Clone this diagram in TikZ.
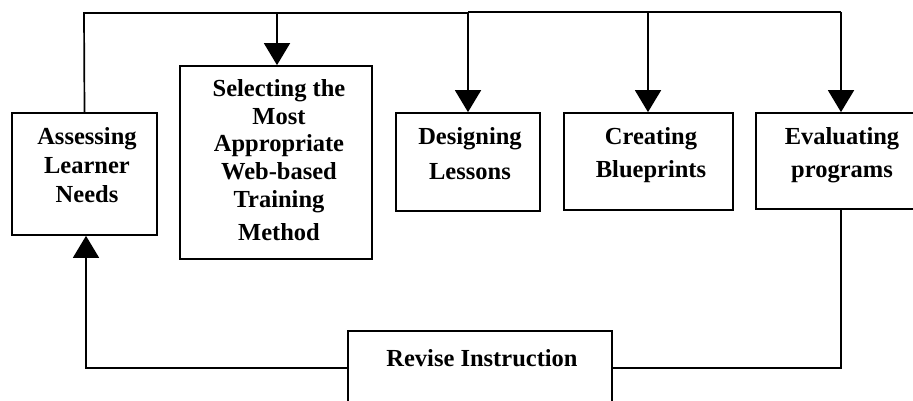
\documentclass[tikz,border=0pt]{standalone}
\usepackage{fontspec}
\setmainfont{Liberation Serif}
\usetikzlibrary{arrows.meta}
\tikzset{
  box/.style={draw, line width=1.7pt, rectangle, inner sep=0pt},
  txt/.style={anchor=base, inner sep=0pt, font=\fontsize{24.5}{27}\selectfont\bfseries},
  conn/.style={line width=1.7pt},
  arr/.style={line width=1.7pt, -{Triangle[length=22pt,width=26pt]}},
}
\begin{document}
\begin{tikzpicture}[x=1pt,y=-1pt]
\useasboundingbox (0,0) rectangle (913,401);
\clip (0,0) rectangle (913,401);
\fill[white] (0,0) rectangle (913,401);
% boxes
\node[box, minimum width=145pt, minimum height=122pt] (A) at (84.5,174) {};
\node[box, minimum width=192pt, minimum height=193pt] (S) at (276,162.5) {};
\node[box, minimum width=144pt, minimum height=98pt] (D) at (468,162) {};
\node[box, minimum width=169pt, minimum height=97pt] (C) at (648.5,161.5) {};
\node[box, minimum width=180pt, minimum height=96pt] (E) at (846,161) {};
\node[box, minimum width=264pt, minimum height=110pt] (R) at (480,386) {};
% texts
\node[txt] (A1) at (87,145) {Assessing};
\node[txt] (A2) at (87,173) {Learner};
\node[txt] (A3) at (87,202) {Needs};
\node[txt] (S1) at (279,97) {Selecting the};
\node[txt] (S2) at (279,125) {Most};
\node[txt] (S3) at (279,152) {Appropriate};
\node[txt] (S4) at (279,179) {Web-based};
\node[txt] (S5) at (279,207) {Training};
\node[txt] (S6) at (279,240) {Method};
\node[txt] (D1) at (470,145) {Designing};
\node[txt] (D2) at (470,179) {Lessons};
\node[txt] (C1) at (651,145) {Creating};
\node[txt] (C2) at (651,178) {Blueprints};
\node[txt] (E1) at (842,145) {Evaluating};
\node[txt] (E2) at (842,177) {programs};
\node[txt] (R1) at (482,366) {Revise Instruction};
% junction coordinates
\coordinate (tA) at (84,13);
\coordinate (tS) at (277,13);
\coordinate (tD) at (468,13);
\coordinate (tC) at (648,12);
\coordinate (tE) at (841,12);
\coordinate (bL) at (349,368);
\coordinate (bR) at (612,368);
% top connectors
\draw[conn] (A.north) -- (tA) -- (tD);
\draw[conn] (tD |- tE) -- (tE);
\draw[arr] (tS) -- (tS |- S.north);
\draw[arr] (tD) -- (D.north);
\draw[arr] (tC) -- (tC |- C.north);
\draw[arr] (tE) -- (tE |- E.north);
% bottom loop
\draw[conn] (tE |- E.south) |- (bR);
\draw[arr] (bL) -| (86,0 |- A.south);
\end{tikzpicture}
\end{document}
